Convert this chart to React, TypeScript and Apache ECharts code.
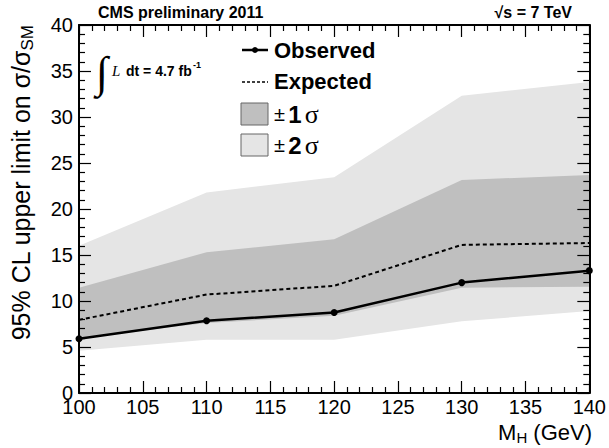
import React, { useEffect, useRef } from "react";
import * as echarts from "echarts";

const mass = [100, 110, 120, 130, 140];
const observed = [5.9, 7.85, 8.75, 12.0, 13.3];
const expected = [7.95, 10.7, 11.65, 16.1, 16.3];
const oneSigmaLow = [6.0, 7.6, 8.4, 11.45, 11.55];
const oneSigmaHigh = [11.45, 15.3, 16.7, 23.15, 23.7];
const twoSigmaLow = [4.6, 5.8, 5.8, 7.8, 8.9];
const twoSigmaHigh = [16.0, 21.8, 23.45, 32.3, 33.8];

const xTicks = { min: 100, max: 140, interval: 5 };
const yTicks = { min: 0, max: 40, interval: 5 };

const FONT = "Liberation Sans";
const SERIF = "Liberation Serif";

function band(low: number[], high: number[], color: string, z: number) {
  return {
    type: "custom",
    z,
    silent: true,
    data: mass.map((m, i) => [m, low[i], high[i]]),
    encode: { x: 0, y: [1, 2] },
    renderItem: (params: any, api: any) => {
      if (params.dataIndex !== 0) return null;
      const up = mass.map((m, i) => api.coord([m, high[i]]));
      const dn = mass.map((m, i) => api.coord([m, low[i]])).reverse();
      return {
        type: "polygon",
        shape: { points: up.concat(dn) },
        style: { fill: color, stroke: null },
      };
    },
  };
}

function axisCommon(showLabel: boolean) {
  return {
    axisLine: { show: true, onZero: false, lineStyle: { color: "#000", width: 2 } },
    axisTick: { show: true, inside: true, length: 12, lineStyle: { color: "#000", width: 1.2 } },
    minorTick: { show: true, splitNumber: 5, length: 6, lineStyle: { color: "#000", width: 1.2 } },
    splitLine: { show: false },
    axisLabel: showLabel
      ? { show: true, color: "#000", fontFamily: FONT, fontSize: 20 }
      : { show: false },
    z: 10,
  };
}

export default function App() {
  const ref = useRef<HTMLDivElement>(null);
  useEffect(() => {
    document.body.style.margin = "0";
    const chart = echarts.init(ref.current!, null, { renderer: "svg" });
    const xb = axisCommon(true);
    const yb = axisCommon(true);
    const option: any = {
      animation: false,
      backgroundColor: "#fff",
      grid: { left: 79, right: 17, top: 25, bottom: 55, containLabel: false },
      xAxis: [
        {
          type: "value",
          position: "bottom",
          ...xTicks,
          ...xb,
          axisLabel: { ...xb.axisLabel, margin: 4 },
        },
        { type: "value", position: "top", ...xTicks, ...axisCommon(false) },
      ],
      yAxis: [
        {
          type: "value",
          position: "left",
          ...yTicks,
          ...yb,
          axisLabel: { ...yb.axisLabel, margin: 6 },
        },
        { type: "value", position: "right", ...yTicks, ...axisCommon(false) },
      ],
      series: [
        band(twoSigmaLow, twoSigmaHigh, "#e5e5e5", 1),
        band(oneSigmaLow, oneSigmaHigh, "#bfbfbf", 2),
        {
          type: "line",
          z: 3,
          data: mass.map((m, i) => [m, expected[i]]),
          symbol: "none",
          lineStyle: { color: "#000", width: 2, type: [4, 3] },
        },
        {
          type: "line",
          z: 4,
          data: mass.map((m, i) => [m, observed[i]]),
          symbol: "circle",
          symbolSize: 7,
          itemStyle: { color: "#000" },
          lineStyle: { color: "#000", width: 2.5 },
        },
      ],
      graphic: [
        {
          type: "text",
          x: 98,
          y: 12,
          style: {
            text: "CMS preliminary 2011",
            font: `bold 16px ${FONT}`,
            fill: "#000",
            verticalAlign: "middle",
          },
        },
        {
          type: "text",
          x: 572,
          y: 12,
          style: {
            text: "√s = 7 TeV",
            font: `bold 16px ${FONT}`,
            fill: "#000",
            align: "right",
            verticalAlign: "middle",
          },
        },
        {
          type: "text",
          x: 102,
          y: 72,
          style: {
            text: "∫",
            font: `44px ${SERIF}`,
            fill: "#000",
            align: "center",
            verticalAlign: "middle",
          },
        },
        {
          type: "text",
          x: 112,
          y: 71,
          style: {
            text: "L",
            font: `italic 15px ${SERIF}`,
            fill: "#000",
            verticalAlign: "middle",
          },
        },
        {
          type: "text",
          x: 126,
          y: 71,
          style: {
            text: "dt = 4.7 fb",
            font: `bold 14px ${FONT}`,
            fill: "#000",
            verticalAlign: "middle",
          },
        },
        {
          type: "text",
          x: 193,
          y: 65,
          style: {
            text: "-1",
            font: `bold 9px ${FONT}`,
            fill: "#000",
            verticalAlign: "middle",
          },
        },
        {
          type: "line",
          shape: { x1: 242, y1: 50, x2: 268, y2: 50 },
          style: { stroke: "#000", lineWidth: 2.5 },
        },
        { type: "circle", shape: { cx: 255, cy: 50, r: 3 }, style: { fill: "#000" } },
        {
          type: "text",
          x: 274,
          y: 50,
          style: {
            text: "Observed",
            font: `bold 22px ${FONT}`,
            fill: "#000",
            verticalAlign: "middle",
          },
        },
        {
          type: "line",
          shape: { x1: 242, y1: 82, x2: 268, y2: 82 },
          style: { stroke: "#000", lineWidth: 1.5, lineDash: [3, 2] },
        },
        {
          type: "text",
          x: 274,
          y: 81,
          style: {
            text: "Expected",
            font: `bold 22px ${FONT}`,
            fill: "#000",
            verticalAlign: "middle",
          },
        },
        {
          type: "rect",
          shape: { x: 241, y: 103, width: 27, height: 22 },
          style: { fill: "#bfbfbf", stroke: "#666", lineWidth: 1 },
        },
        {
          type: "rect",
          shape: { x: 241, y: 134, width: 27, height: 22 },
          style: { fill: "#e5e5e5", stroke: "#666", lineWidth: 1 },
        },
        {
          type: "text",
          x: 274,
          y: 114,
          style: {
            text: "{pm|±} {n|1}{s|σ}",
            verticalAlign: "middle",
            rich: {
              pm: { fontFamily: FONT, fontSize: 20, fill: "#000" },
              n: { fontFamily: FONT, fontWeight: "bold", fontSize: 24, fill: "#000" },
              s: { fontFamily: SERIF, fontSize: 26, fill: "#000", padding: [0, 0, 0, 3] },
            },
          },
        },
        {
          type: "text",
          x: 274,
          y: 145,
          style: {
            text: "{pm|±} {n|2}{s|σ}",
            verticalAlign: "middle",
            rich: {
              pm: { fontFamily: FONT, fontSize: 20, fill: "#000" },
              n: { fontFamily: FONT, fontWeight: "bold", fontSize: 24, fill: "#000" },
              s: { fontFamily: SERIF, fontSize: 26, fill: "#000", padding: [0, 0, 0, 3] },
            },
          },
        },
        {
          type: "text",
          x: 21,
          y: 25,
          rotation: Math.PI / 2,
          style: {
            text: "{a|95% CL upper limit on σ/σ}{b|SM}",
            align: "right",
            verticalAlign: "middle",
            rich: {
              a: { fontFamily: FONT, fontSize: 25, fill: "#000" },
              b: { fontFamily: FONT, fontSize: 17, fill: "#000", padding: [12, 0, 0, 0] },
            },
          },
        },
        {
          type: "text",
          x: 592,
          y: 432,
          style: {
            text: "{a|M}{b|H}{a| (GeV)}",
            align: "right",
            verticalAlign: "middle",
            rich: {
              a: { fontFamily: FONT, fontSize: 22, fill: "#000" },
              b: { fontFamily: FONT, fontSize: 15, fill: "#000", padding: [10, 0, 0, 0] },
            },
          },
        },
      ],
    };
    chart.setOption(option);
    return () => chart.dispose();
  }, []);
  return <div ref={ref} style={{ width: 609, height: 448 }} />;
}
